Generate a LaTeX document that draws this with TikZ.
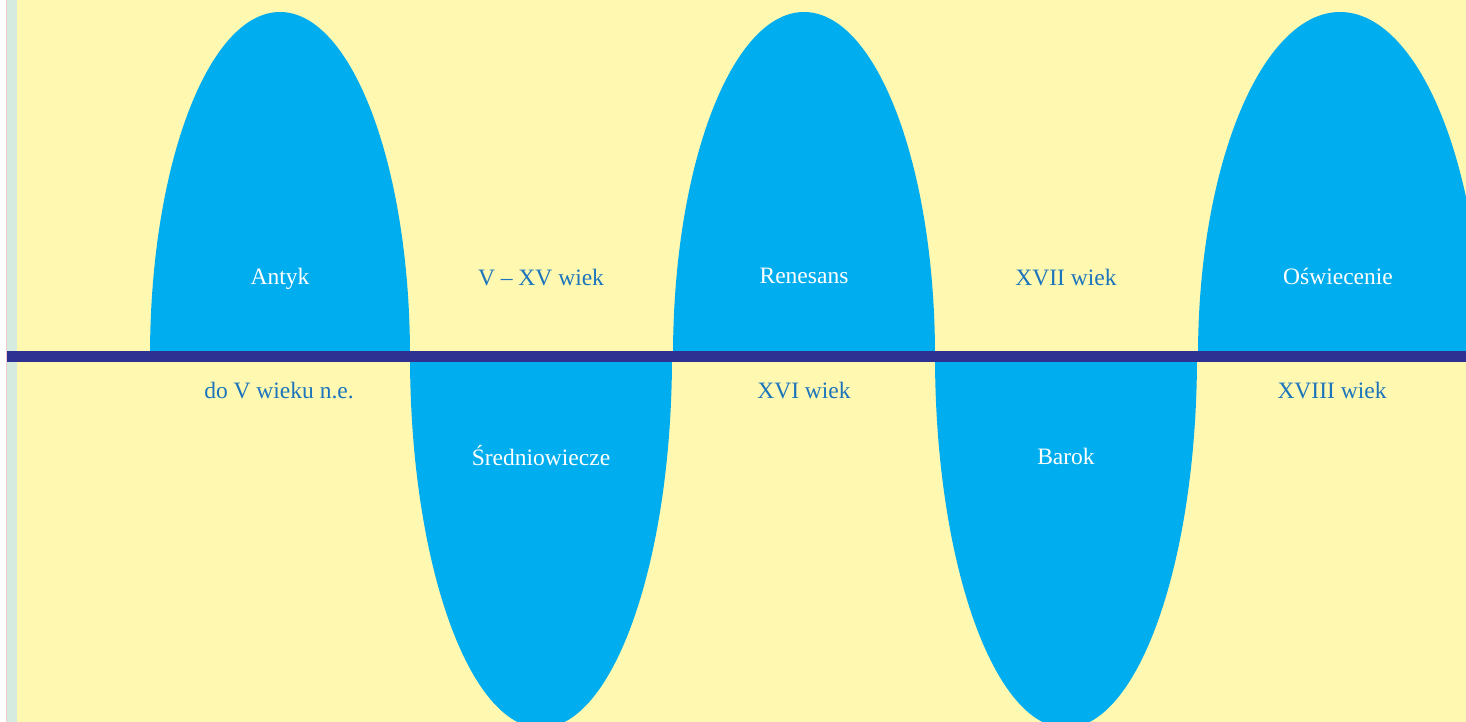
\documentclass[tikz,border=0pt]{standalone}
\usepackage{fontspec}
\setmainfont{Liberation Serif}
\definecolor{cream}{HTML}{FFF8B1}
\definecolor{sky}{HTML}{00AEEF}
\definecolor{navy}{HTML}{2E3192}
\definecolor{ink}{HTML}{1C75BC}
\definecolor{mint}{HTML}{D5EBDF}
\definecolor{rose}{HTML}{F2C9CF}
\tikzset{era/.style={text=white,font=\fontsize{23.5}{28}\selectfont},span/.style={text=ink,font=\fontsize{23.5}{28}\selectfont},lobe/.style={fill=sky}}

\begin{document}
\begin{tikzpicture}[x=1pt,y=-1pt]
\useasboundingbox (0,0) rectangle (1466,722);
\fill[white] (0,0) rectangle (1466,722);
\fill[rose] (6,0) rectangle (7,722);
\fill[mint] (7,0) rectangle (17,722);
\fill[cream] (17,0) rectangle (1466,722);
\begin{scope}
\clip (0,0) rectangle (1466,722);
\foreach \cx/\rx in {280/130,804/131,1340/142}\fill[lobe] (\cx-\rx,356) arc[start angle=180,end angle=360,x radius=\rx,y radius=344]--cycle;
\foreach \cx in {541,1066}\fill[lobe] (\cx-131,356) arc[start angle=180,end angle=0,x radius=131,y radius=372]--cycle;
\end{scope}
\fill[navy] (7,351) rectangle (1466,362);
\node[era] (antyk) at (280,279) {Antyk};
\node[span] (antykwiek) at (279,391) {do V wieku n.e.};
\node[span] (sredwiek) at (541,278) {V -- XV wiek};
\node[era] (sred) at (541,456) {Średniowiecze};
\node[era] (ren) at (804,276) {Renesans};
\node[span] (renwiek) at (804,391) {XVI wiek};
\node[span] (barwiek) at (1066,278) {XVII wiek};
\node[era] (bar) at (1066,456) {Barok};
\node[era] (osw) at (1338,276) {Oświecenie};
\node[span] (oswwiek) at (1332,391) {XVIII wiek};
\end{tikzpicture}
\end{document}
